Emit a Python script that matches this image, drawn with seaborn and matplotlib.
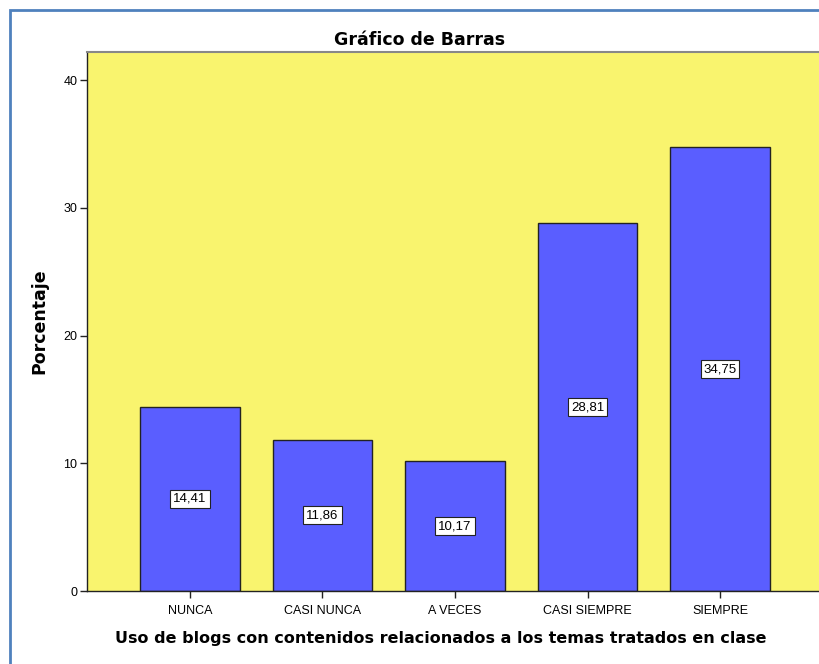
import matplotlib
matplotlib.use("Agg")
import matplotlib.pyplot as plt
import seaborn as sns
import pandas as pd
from matplotlib.patches import Rectangle

categories = ["NUNCA", "CASI NUNCA", "A VECES", "CASI SIEMPRE", "SIEMPRE"]
percentages = [14.41, 11.86, 10.17, 28.81, 34.75]
value_labels = ["14,41", "11,86", "10,17", "28,81", "34,75"]
yticks = [0, 10, 20, 30, 40]

df = pd.DataFrame({"categoria": categories, "porcentaje": percentages})

sns.set_style("white")
plt.rcParams["font.family"] = ["Liberation Sans", "DejaVu Sans"]
plt.rcParams["text.color"] = "black"
plt.rcParams["xtick.color"] = "black"
plt.rcParams["ytick.color"] = "black"

fig = plt.figure(figsize=(8.19, 6.64), dpi=100)
fig.patch.set_facecolor("white")

# blue frame around the figure (cut at the right/bottom like the screenshot)
fig.patches.append(Rectangle((10 / 819, -0.1), 1.2, (664 - 10) / 664 + 0.1,
                             transform=fig.transFigure, fill=False,
                             edgecolor="#4f81bd", linewidth=2))

ax = fig.add_axes([87 / 819, (664 - 591) / 664, (819 - 87) / 819, (591 - 52) / 664])
ax.set_facecolor("#f9f46e")

sns.barplot(data=df, x="categoria", y="porcentaje", color="#5a5eff",
            saturation=1, width=0.75, edgecolor="#222222", linewidth=1, ax=ax)

for i, (v, lab) in enumerate(zip(percentages, value_labels)):
    ax.text(i, v / 2, lab, ha="center", va="center", fontsize=9.5,
            bbox=dict(boxstyle="square,pad=0.22", facecolor="white",
                      edgecolor="#222222", linewidth=0.8))

ax.set_xlim(-0.777, 4.747)
ax.set_ylim(0, 42.2)
ax.set_yticks(yticks)
ax.tick_params(axis="both", direction="out", length=5, width=1, color="#222222",
               labelsize=9, pad=2, left=True, bottom=True)
ax.tick_params(axis="x", pad=5)
for s in ["left", "bottom"]:
    ax.spines[s].set_color("#222222")
    ax.spines[s].set_linewidth(1)
ax.spines["top"].set_color("#888888")
ax.spines["top"].set_linewidth(1.5)
ax.spines["right"].set_visible(False)
ax.set_xlabel("")
ax.set_ylabel("")

bold = dict(fontweight="bold", family="DejaVu Sans")
fig.text(441 / 819, 1 - 638 / 664,
         "Uso de blogs con contenidos relacionados a los temas tratados en clase",
         ha="center", va="center", fontsize=11.5, **bold)
fig.text(39 / 819, 1 - 321 / 664, "Porcentaje", rotation=90,
         ha="center", va="center", fontsize=12.5, **bold)
fig.text(420 / 819, 1 - 40 / 664, "Gráfico de Barras", ha="center", va="center",
         fontsize=12.5, **bold)

fig.savefig("out.png", dpi=100)
